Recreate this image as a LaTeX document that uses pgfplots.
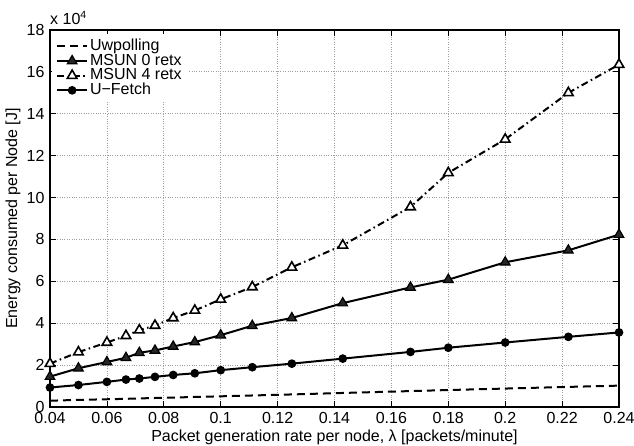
\documentclass[border=0pt]{standalone}
\usepackage{pgfplots}
\pgfplotsset{compat=1.18}
\usepackage{fontspec}
\setmainfont{Liberation Sans}
\begin{document}
\fontsize{16}{18}\selectfont
\begin{tikzpicture}
\begin{axis}[
  name=main,
  scale only axis,
  width=569pt, height=377pt,
  xmin=0.04, xmax=0.24, ymin=0, ymax=18,
  xtick={0.04,0.06,...,0.241},
  ytick={0,2,...,18},
  /pgf/number format/assume math mode=true,
  /pgf/number format/fixed,
  /pgf/number format/precision=2,
  scaled x ticks=false, scaled y ticks=false,
  tick align=inside,
  major tick length=6pt,
  tick style={black, line width=0.8pt},
  axis line style={line width=1.2pt},
  grid=major,
  major grid style={dotted, gray!75, line width=0.8pt},
  tick label style={font=\fontsize{16}{18}\selectfont},
  label style={font=\fontsize{16}{18}\selectfont},
  xlabel={Packet generation rate per node, λ [packets/minute]},
  ylabel={Energy consumed per Node [J]},
  xlabel style={at={(rel axis cs:0.5,0)}, anchor=center, yshift=-30pt},
  ylabel style={at={(rel axis cs:0,0.5)}, anchor=center, yshift=37pt},
  legend cell align=left,
  legend style={at={(rel axis cs:0,1)}, anchor=north west, draw=none, fill=white,
    font=\fontsize{16}{18}\selectfont, row sep=-3pt, inner xsep=4pt, inner ysep=3pt, xshift=2pt, yshift=-4pt},
  legend image code/.code={\draw[#1] (0cm,0cm) -- (1.05cm,0cm); \draw[#1,solid] plot coordinates {(0.525cm,0cm)};},
]
\addplot[black, line width=2pt, dash pattern=on 8pt off 5pt] coordinates {
(0.04,0.30) (0.05,0.34) (0.06,0.37) (0.0667,0.39) (0.0714,0.41) (0.0769,0.43) (0.0833,0.45) (0.0909,0.48) (0.1,0.51) (0.1111,0.55) (0.125,0.60) (0.1429,0.67) (0.1667,0.76) (0.18,0.81) (0.2,0.88) (0.2222,0.96) (0.24,1.02)};
\addlegendentry{Uwpolling}
\addplot[black, line width=2pt, mark=triangle*, mark size=5.5pt, mark options={solid, fill=black!85, draw=black, line width=1.2pt}] coordinates {
(0.04,1.45) (0.05,1.85) (0.06,2.15) (0.0667,2.35) (0.0714,2.59) (0.0769,2.70) (0.0833,2.89) (0.0909,3.10) (0.1,3.43) (0.1111,3.88) (0.125,4.25) (0.1429,4.96) (0.1667,5.71) (0.18,6.08) (0.2,6.91) (0.2222,7.48) (0.24,8.23)};
\addlegendentry{MSUN 0 retx}
\addplot[black, line width=2pt, dash pattern=on 7pt off 3.5pt on 1.5pt off 3.5pt, mark=triangle*, mark size=5.5pt, mark options={solid, fill=white, draw=black, line width=1.6pt}] coordinates {
(0.04,2.07) (0.05,2.62) (0.06,3.08) (0.0667,3.40) (0.0714,3.67) (0.0769,3.89) (0.0833,4.25) (0.0909,4.61) (0.1,5.14) (0.1111,5.73) (0.125,6.67) (0.1429,7.72) (0.1667,9.55) (0.18,11.18) (0.2,12.78) (0.2222,15.00) (0.24,16.35)};
\addlegendentry{MSUN 4 retx}
\addplot[black, line width=2pt, mark=*, mark size=3.3pt, mark options={solid, fill=black}] coordinates {
(0.04,0.93) (0.05,1.05) (0.06,1.20) (0.0667,1.31) (0.0714,1.36) (0.0769,1.44) (0.0833,1.53) (0.0909,1.61) (0.1,1.76) (0.1111,1.90) (0.125,2.07) (0.1429,2.31) (0.1667,2.63) (0.18,2.83) (0.2,3.08) (0.2222,3.35) (0.24,3.56)};
\addlegendentry{U{\char"2212}Fetch}
\end{axis}
\node[anchor=south west, inner sep=0pt, font=\fontsize{16}{18}\selectfont] at ([yshift=5pt]main.north west) {x 10\raisebox{6pt}{\fontsize{10.5}{11}\selectfont 4}};
\pgfresetboundingbox
\path[use as bounding box] ([xshift=-50pt,yshift=-38pt]main.south west) rectangle ([xshift=15pt,yshift=30pt]main.north east);
\end{tikzpicture}
\end{document}
